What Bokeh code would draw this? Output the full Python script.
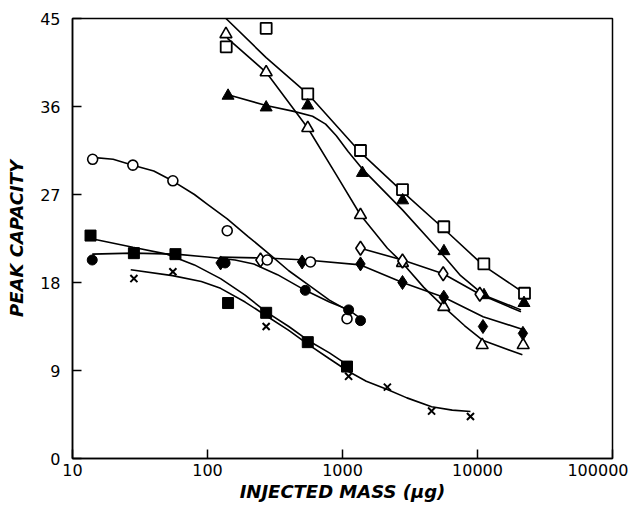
from bokeh.plotting import figure
from bokeh.models import FixedTicker, Range1d, NumeralTickFormatter
from bokeh.embed import file_html
from bokeh.resources import INLINE

# ---- marker data (injected mass in ug, peak capacity) ----
sq_open_x = [137.6, 272, 553, 1359, 2782, 5627, 11140, 22290]
sq_open_y = [42.1, 44.0, 37.3, 31.5, 27.5, 23.7, 19.9, 16.9]

tri_open_x = [137, 272, 553, 1359, 2782, 5627, 10830, 21800]
tri_open_y = [43.4, 39.5, 33.8, 24.9, 20.0, 15.5, 11.6, 11.6]

tri_fill_x = [142, 272, 553, 1405, 2790, 5640, 11170, 22100]
tri_fill_y = [37.1, 35.9, 36.1, 29.2, 26.4, 21.2, 16.7, 15.9]

dia_open_x = [247, 1359, 2782, 5570, 10400]
dia_open_y = [20.3, 21.5, 20.2, 18.9, 16.8]

dia_fill_x = [125, 502, 1359, 2782, 5627, 10980, 21700]
dia_fill_y = [20.0, 20.1, 19.9, 18.0, 16.5, 13.5, 12.8]

circ_open_x = [14.1, 28, 55.4, 140, 277, 579, 1080]
circ_open_y = [30.6, 30.0, 28.4, 23.3, 20.3, 20.1, 14.3]

circ_fill_x = [14, 135, 530, 1110, 1360]
circ_fill_y = [20.3, 20.0, 17.2, 15.2, 14.1]

sq_fill_x = [13.6, 28.5, 57.9, 142, 272, 553, 1080]
sq_fill_y = [22.8, 21.0, 20.9, 15.9, 14.9, 11.9, 9.4]

cross_x = [28.5, 55.4, 272, 1110, 2150, 4570, 8870]
cross_y = [18.4, 19.1, 13.5, 8.4, 7.3, 4.85, 4.3]

# ---- fitted curves ----
sq_open_cx = [137, 272, 553, 1359, 2782, 5627, 11140, 22290]
sq_open_cy = [45.0, 41.0, 37.3, 31.3, 27.3, 23.5, 19.7, 16.9]

tri_open_cx = [140, 272, 553, 900, 1359, 2150, 2782, 4000, 5627, 8000, 10900, 21500]
tri_open_cy = [43.0, 39.5, 33.8, 29.0, 24.9, 21.5, 20.0, 17.5, 15.5, 13.6, 12.1, 10.6]

tri_fill_cx = [142, 272, 436, 600, 750, 900, 1100, 1405, 2790, 5024, 7500, 11170, 21000]
tri_fill_cy = [37.2, 36.1, 35.5, 35.0, 34.2, 33.0, 31.4, 29.6, 25.4, 21.5, 18.7, 16.7, 15.2]

dia_open_cx = [1359, 2782, 5570, 10400, 21000]
dia_open_cy = [21.5, 20.3, 18.9, 16.8, 15.0]

dia_fill_cx = [125, 270, 540, 1360, 2782, 5627, 11000, 21700]
dia_fill_cy = [20.6, 20.5, 20.3, 19.8, 18.0, 16.5, 14.5, 13.2]

circ_open_cx = [14, 20, 28, 40, 55, 80, 100, 140, 200, 293, 400, 579, 800, 1146]
circ_open_cy = [30.8, 30.6, 30.0, 29.4, 28.4, 27.0, 26.0, 24.5, 22.7, 20.8, 19.2, 17.6, 16.2, 15.0]

circ_fill_cx = [14, 28, 58, 100, 160, 220, 330, 530, 800, 1110, 1400]
circ_fill_cy = [20.9, 21.0, 20.9, 20.6, 20.3, 19.9, 18.8, 17.2, 16.0, 15.2, 14.2]

sq_fill_cx = [13.6, 28, 50, 80, 125, 190, 272, 400, 553, 800, 1080]
sq_fill_cy = [22.5, 21.6, 20.9, 19.8, 18.4, 16.7, 15.0, 13.5, 12.1, 10.8, 9.6]

cross_cx = [27, 55, 90, 125, 190, 272, 400, 553, 800, 1110, 1500, 2150, 3000, 4570, 6500, 8870]
cross_cy = [19.3, 18.7, 18.1, 17.4, 16.0, 14.6, 13.1, 11.7, 10.2, 8.9, 7.9, 7.05, 6.2, 5.3, 4.95, 4.8]

x_ticks = [10, 100, 1000, 10000, 100000]
y_ticks = [0, 9, 18, 27, 36, 45]

p = figure(width=628, height=504, x_axis_type="log",
           x_range=Range1d(10, 100000), y_range=Range1d(0, 45),
           output_backend="svg", toolbar_location=None,
           min_border_left=72, min_border_right=16,
           min_border_top=18, min_border_bottom=46)
p.grid.visible = False
p.outline_line_color = "black"
p.outline_line_width = 1.5
p.background_fill_color = "white"
p.border_fill_color = "white"

p.xaxis.ticker = FixedTicker(ticks=x_ticks, minor_ticks=[])
p.xaxis.formatter = NumeralTickFormatter(format="0")
p.yaxis.ticker = FixedTicker(ticks=y_ticks, minor_ticks=[])

for ax in (p.xaxis, p.yaxis):
    ax.major_tick_in = 9
    ax.major_tick_out = 0
    ax.minor_tick_in = 0
    ax.minor_tick_out = 0
    ax.axis_line_width = 1.5
    ax.major_tick_line_width = 1.5
    ax.axis_line_color = "black"
    ax.major_tick_line_color = "black"
    ax.major_label_text_font = "DejaVu Sans"
    ax.major_label_text_font_size = "16px"
    ax.major_label_text_color = "black"
    ax.axis_label_text_font = "DejaVu Sans"
    ax.axis_label_text_font_style = "bold italic"
    ax.axis_label_text_font_size = "18px"
    ax.axis_label_text_color = "black"

p.xaxis.axis_label = "INJECTED MASS (\u03bcg)"
p.yaxis.axis_label = "PEAK CAPACITY"
p.xaxis.major_label_standoff = 5
p.xaxis.axis_label_standoff = 2
p.yaxis.major_label_standoff = 12
p.yaxis.axis_label_standoff = 10

lw = 1.6
for cx, cy in [(sq_open_cx, sq_open_cy), (tri_open_cx, tri_open_cy),
               (tri_fill_cx, tri_fill_cy), (dia_open_cx, dia_open_cy),
               (dia_fill_cx, dia_fill_cy), (circ_open_cx, circ_open_cy),
               (circ_fill_cx, circ_fill_cy), (sq_fill_cx, sq_fill_cy),
               (cross_cx, cross_cy)]:
    p.line(cx, cy, line_color="black", line_width=lw)

p.scatter(sq_open_x, sq_open_y, marker="square", size=11, fill_color="white", line_color="black", line_width=1.8)
p.scatter(tri_open_x, tri_open_y, marker="triangle", size=12, fill_color="white", line_color="black", line_width=1.6)
p.scatter(tri_fill_x, tri_fill_y, marker="triangle", size=12, fill_color="black", line_color="black", line_width=1.0)
p.scatter(dia_open_x, dia_open_y, marker="diamond", size=14, fill_color="white", line_color="black", line_width=1.6)
p.scatter(dia_fill_x, dia_fill_y, marker="diamond", size=14, fill_color="black", line_color="black", line_width=1.0)
p.scatter(circ_open_x, circ_open_y, marker="circle", size=10, fill_color="white", line_color="black", line_width=1.6)
p.scatter(circ_fill_x, circ_fill_y, marker="circle", size=10, fill_color="black", line_color="black", line_width=1.0)
p.scatter(sq_fill_x, sq_fill_y, marker="square", size=11, fill_color="black", line_color="black", line_width=1.0)
p.scatter(cross_x, cross_y, marker="x", size=10, line_color="black", line_width=2.0)

open("out.html", "w").write(file_html(p, INLINE))
